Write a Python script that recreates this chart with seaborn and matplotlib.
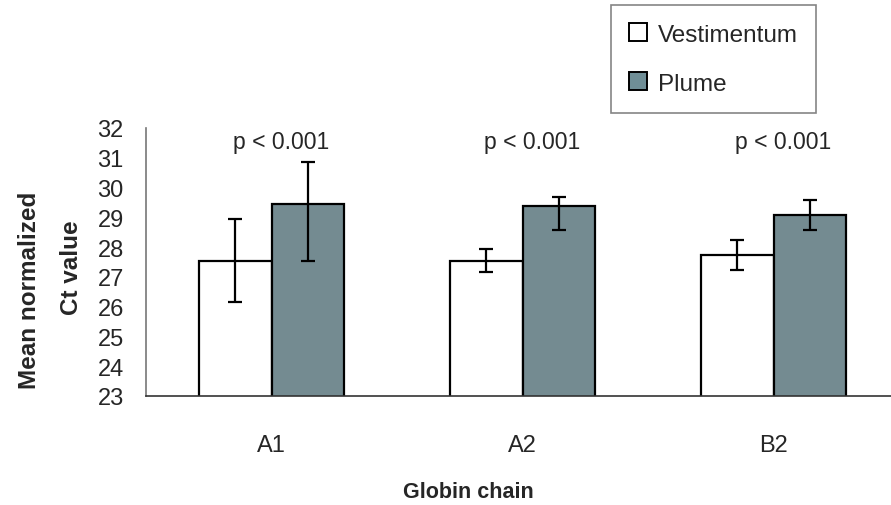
import matplotlib
matplotlib.use("Agg")
import matplotlib.pyplot as plt
import seaborn as sns
import pandas as pd
from matplotlib.patches import Patch

categories = ["A1", "A2", "B2"]
tissues = ["Vestimentum", "Plume"]
vest_mean = [27.55, 27.55, 27.72]
plume_mean = [29.45, 29.38, 29.08]
vest_err_low = [1.38, 0.38, 0.50]
vest_err_high = [1.38, 0.40, 0.52]
plume_err_low = [1.93, 0.80, 0.50]
plume_err_high = [1.40, 0.30, 0.50]
pvals = ["p < 0.001", "p < 0.001", "p < 0.001"]

colors = {"Vestimentum": "#FFFFFF", "Plume": "#6F8E96"}

df = pd.DataFrame({
    "chain": categories * 2,
    "tissue": ["Vestimentum"] * 3 + ["Plume"] * 3,
    "value": vest_mean + plume_mean,
})

sns.set_style("white")
plt.rcParams["font.family"] = ["Liberation Sans", "DejaVu Sans"]

fig = plt.figure(figsize=(8.91, 5.06), dpi=100)
ax = fig.add_axes([146 / 891, 1 - 397 / 506, (899 - 146) / 891, (397 - 129) / 506])

sns.barplot(data=df, x="chain", y="value", hue="tissue", hue_order=tissues,
            palette=colors, width=0.58, edgecolor="black", linewidth=1.6,
            errorbar=None, legend=False, ax=ax, bottom=0)

errs = [(vest_mean, vest_err_low, vest_err_high), (plume_mean, plume_err_low, plume_err_high)]
for cont, (m, lo, hi) in zip(ax.containers, errs):
    xs = [b.get_x() + b.get_width() / 2 for b in cont]
    ax.errorbar(xs, m, yerr=[lo, hi], fmt="none", ecolor="black",
                elinewidth=1.6, capsize=5, capthick=1.6, zorder=5)

for i, p in enumerate(pvals):
    ax.text(i + 0.04, 31.55, p, ha="center", va="center", fontsize=16.6)

ax.set_ylim(23, 32)
ax.set_xlim(-0.5, 2.5)
ax.set_yticks(range(23, 33))
ax.set_xticks([-0.5, 0.5, 1.5, 2.5], minor=False)
ax.set_xticklabels([])
ax.set_xticks(range(3), minor=True)
ax.set_xticklabels(categories, minor=True)
ax.tick_params(axis="x", which="major", length=6, width=1, color="#555555", direction="out")
ax.tick_params(axis="x", which="minor", length=0, labelsize=17, pad=27)
ax.tick_params(axis="y", length=5, width=1, color="#555555", direction="out", labelsize=17, pad=11)
for s in ["top", "right"]:
    ax.spines[s].set_visible(False)
ax.spines["left"].set_color("#777777")
ax.spines["bottom"].set_color("#333333")
ax.spines["left"].set_linewidth(1.2)
ax.spines["bottom"].set_linewidth(1.2)
ax.set_xlabel("")
ax.set_ylabel("")

fig.text(468 / 891, 1 - 493 / 506, "Globin chain", ha="center", va="center",
         fontsize=15.5, fontweight="bold")
fig.text(30 / 891, 1 - 290 / 506, "Mean normalized", ha="center", va="center",
         rotation=90, fontsize=17.5, fontweight="bold")
fig.text(72 / 891, 1 - 268 / 506, "Ct value", ha="center", va="center",
         rotation=90, fontsize=17.5, fontweight="bold")

handles = [Patch(facecolor=colors[t], edgecolor="black", linewidth=1.4) for t in tissues]
leg = fig.legend(handles, tissues, loc="upper left",
                 bbox_to_anchor=(611 / 891, 1 - 6 / 506), frameon=True, fancybox=False,
                 fontsize=17.5, handlelength=0.74, handleheight=0.74, handletextpad=0.45,
                 labelspacing=1.1, borderpad=0.75, borderaxespad=0)
leg.get_frame().set_edgecolor("#666666")
leg.get_frame().set_linewidth(1.2)

fig.savefig("out.png", dpi=100)
